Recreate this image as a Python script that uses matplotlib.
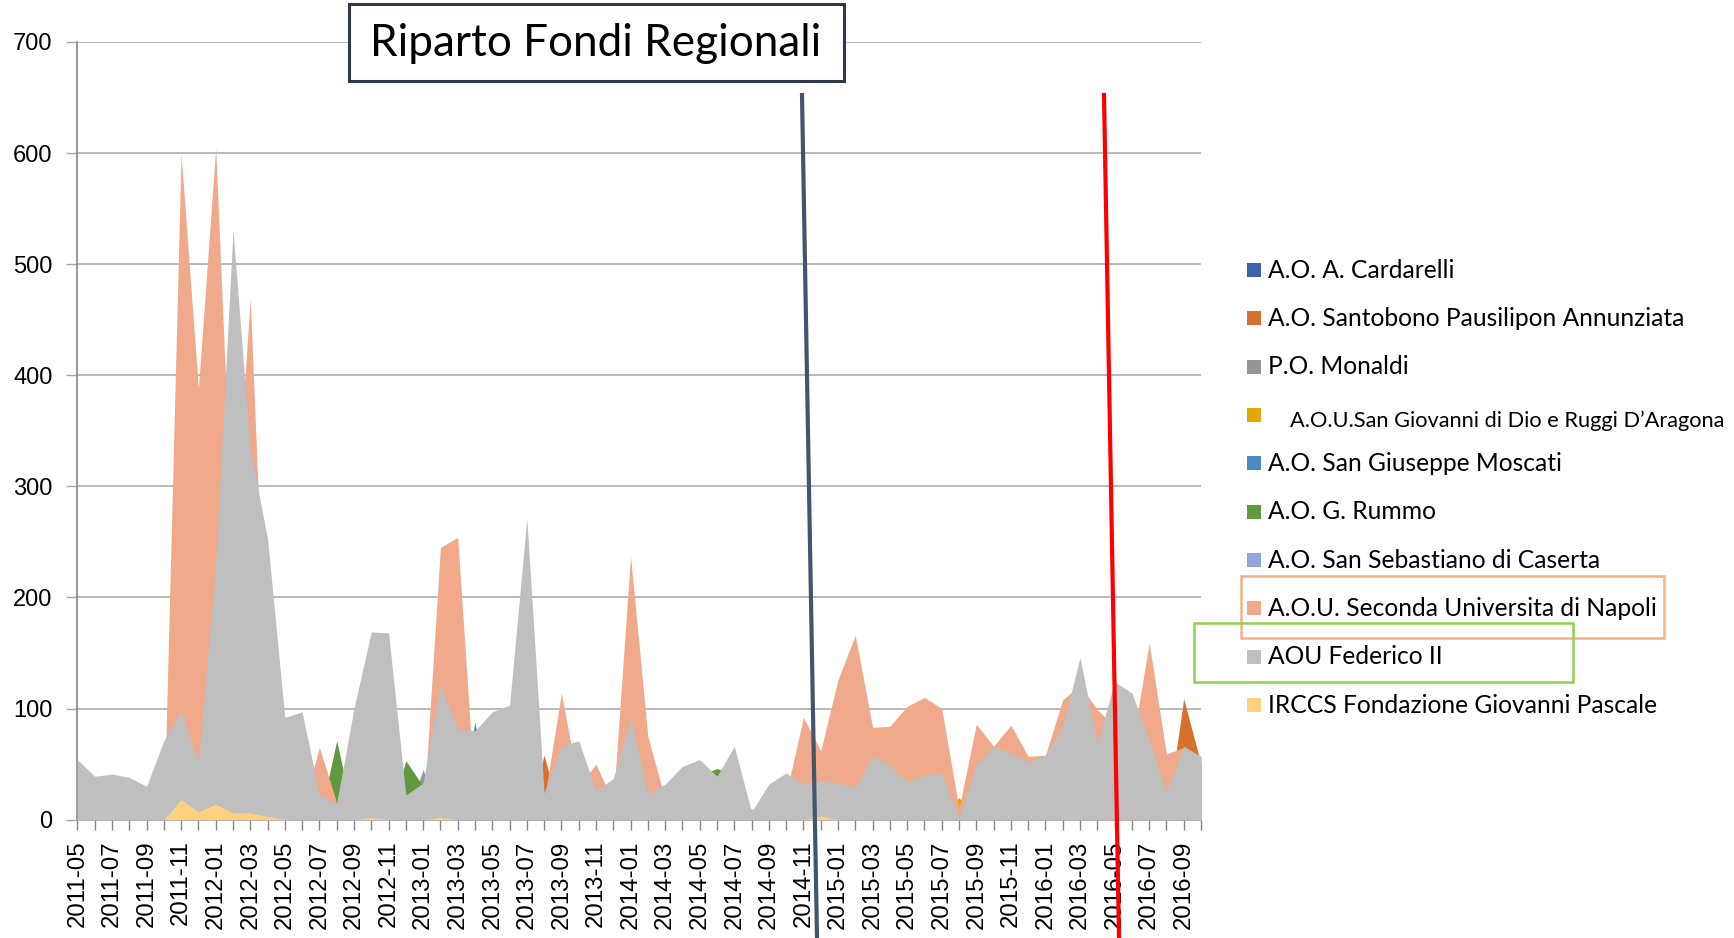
import numpy as np
import pandas as pd
import matplotlib
matplotlib.use("Agg")
import matplotlib.pyplot as plt
from matplotlib.patches import Rectangle
from matplotlib.lines import Line2D

# months 2011-05 .. 2016-10
months = pd.date_range("2011-05-01", periods=66, freq="MS").strftime("%Y-%m").tolist()

names = [
    "A.O. A. Cardarelli",
    "A.O. Santobono Pausilipon Annunziata",
    "P.O. Monaldi",
    "A.O.U.San Giovanni di Dio e Ruggi D\u2019Aragona",
    "A.O. San Giuseppe Moscati",
    "A.O. G. Rummo",
    "A.O. San Sebastiano di Caserta",
    "A.O.U. Seconda Universita di Napoli",
    "AOU Federico II",
    "IRCCS Fondazione Giovanni Pascale",
]
colors = ["#3E63AC", "#D5702E", "#969696", "#E3A900", "#4E88C2",
          "#60993D", "#8FA6D6", "#F0A98B", "#BFBFBF", "#FFD17F"]

cardarelli = [0] * 66
santobono = [0] * 66
santobono[27] = 58
santobono[64] = 109
santobono[65] = 50
monaldi = [0] * 66
monaldi[20] = 45
ruggi = [0] * 66
ruggi[51] = 20
moscati = [0] * 66
moscati[23] = 88
rummo = [0] * 66
rummo[15] = 71
rummo[19] = 53
rummo[20] = 30
rummo[36] = 40
rummo[37] = 46
rummo[38] = 40
sebastiano = [0] * 66

seconda = [0, 0, 0, 0, 0, 0, 599, 388, 605, 240,
           469, 88, 0, 10, 65, 15, 0, 0, 0, 0,
           0, 245, 254, 20, 0, 0, 0, 17, 114, 30,
           50, 15, 237, 75, 18, 0, 0, 0, 0, 10,
           0, 23, 92, 62, 126, 166, 83, 84, 102, 110,
           100, 10, 86, 66, 85, 57, 58, 108, 121, 99,
           84, 65, 159, 59, 65, 55]

federico = [54, 39, 41, 38, 30, 71, 98, 52, 230, 531,
            333, 253, 92, 97, 22, 15, 100, 169, 168, 22,
            33, 122, 82, 80, 97, 103, 271, 24, 66, 71,
            26, 37, 92, 23, 32, 48, 54, 39, 66, 7,
            32, 42, 32, 35, 33, 29, 58, 49, 34, 40,
            42, 2, 50, 66, 60, 52, 58, 84, 146, 68,
            124, 114, 72, 24, 66, 57]

pascale = [0] * 66
pascale[6:12] = [18, 7, 14, 6, 6, 3]
pascale[17] = 2
pascale[21] = 2
pascale[43] = 3

series = [cardarelli, santobono, monaldi, ruggi, moscati,
          rummo, sebastiano, seconda, federico, pascale]

W, H = 1734, 938
fig = plt.figure(figsize=(W / 100, H / 100), dpi=100)
ax = fig.add_axes([77.4 / W, 1 - 819.6 / H, (1201 - 77.4) / W, (819.6 - 42) / H])

x = np.arange(len(months))
for k, vals in enumerate(series):
    ax.fill_between(x, 0, vals, color=colors[k], linewidth=0, zorder=2 + k)

ax.set_xlim(0, len(months) - 1)
ax.set_ylim(0, 700)
ax.set_yticks(range(0, 701, 100))
ax.grid(axis="y", color="#A6A6A6", linewidth=1.1, zorder=1)
ax.set_axisbelow(True)

ax.set_xticks(x)
ax.set_xticklabels([m if i % 2 == 0 else "" for i, m in enumerate(months)],
                   rotation=90, family="Liberation Sans", fontsize=17.3)
for lab in ax.get_yticklabels():
    lab.set_family("Liberation Sans")
    lab.set_fontsize(17)
ax.tick_params(axis="x", length=7, width=1, color="#868686", pad=8)
ax.tick_params(axis="y", length=8, width=1, color="#A6A6A6", pad=10)
for s in ["top", "right"]:
    ax.spines[s].set_visible(False)
ax.spines["left"].set_color("#868686")
ax.spines["bottom"].set_color("#A6A6A6")
ax.spines["left"].set_linewidth(1.2)
ax.spines["bottom"].set_linewidth(1.2)

# title box
fig.add_artist(Rectangle((349 / W, 1 - 81 / H), (844 - 349) / W, (81 - 4) / H,
                         transform=fig.transFigure, facecolor="white",
                         edgecolor="#2E3A48", linewidth=2.2))
fig.text(596 / W, 1 - 44 / H, "Riparto Fondi Regionali", family="Lato",
         fontsize=31.8, ha="center", va="center", color="black")

# hand-drawn marker lines
fig.add_artist(Line2D([802 / W, 817 / W], [1 - 95 / H, 0], transform=fig.transFigure,
                      color="#44546A", linewidth=3, zorder=20))
fig.add_artist(Line2D([1104 / W, 1119 / W], [1 - 95 / H, 0], transform=fig.transFigure,
                      color="#FF0000", linewidth=3, zorder=20))

# legend (manual)
y0, step = 270, 48.35
for k, name in enumerate(names):
    yc = y0 + step * k
    fig.add_artist(Rectangle((1247 / W, 1 - (yc + 7) / H), 14 / W, 14 / H,
                             transform=fig.transFigure, facecolor=colors[k],
                             edgecolor="none"))
    if k == 3:
        fig.text(1290 / W, 1 - (yc + 6) / H, name, family="Lato", fontsize=15.7,
                 ha="left", va="center")
    else:
        fig.text(1268 / W, 1 - yc / H, name, family="Lato", fontsize=17.7,
                 ha="left", va="center")

fig.add_artist(Rectangle((1241 / W, 1 - 638 / H), (1664 - 1241) / W, (638 - 576) / H,
                         transform=fig.transFigure, facecolor="none",
                         edgecolor="#F4B183", linewidth=1.8))
fig.add_artist(Rectangle((1194 / W, 1 - 682 / H), (1573 - 1194) / W, (682 - 623) / H,
                         transform=fig.transFigure, facecolor="none",
                         edgecolor="#92D050", linewidth=1.8))

fig.savefig("out.png", dpi=100)
